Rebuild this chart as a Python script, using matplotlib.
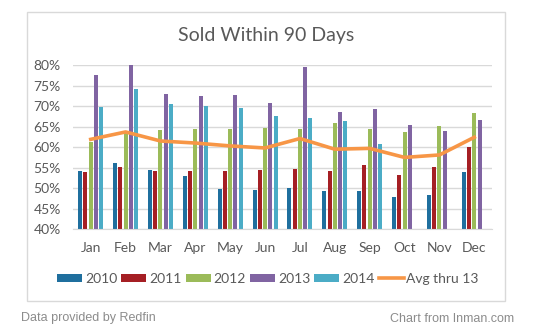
import matplotlib
matplotlib.use('Agg')
import matplotlib.pyplot as plt
import matplotlib.patches as mpatches
import numpy as np

months = ['Jan', 'Feb', 'Mar', 'Apr', 'May', 'Jun', 'Jul', 'Aug', 'Sep', 'Oct', 'Nov', 'Dec']
y2010 = [54.2, 56.1, 54.4, 53.0, 49.8, 49.6, 50.0, 49.3, 49.3, 47.9, 48.3, 54.0]
y2011 = [53.9, 55.1, 54.2, 54.2, 54.2, 54.5, 54.6, 54.2, 55.6, 53.2, 55.1, 60.0]
y2012 = [61.2, 63.9, 64.2, 64.4, 64.4, 64.6, 64.4, 65.8, 64.4, 63.7, 65.1, 68.3]
y2013 = [77.5, 80.0, 72.9, 72.4, 72.7, 70.7, 79.5, 68.5, 69.2, 65.4, 63.9, 66.6]
y2014 = [69.8, 74.1, 70.5, 70.0, 69.5, 67.6, 67.1, 66.3, 60.8, np.nan, np.nan, np.nan]
avg_thru_13 = [61.9, 63.7, 61.5, 61.0, 60.3, 59.8, 62.1, 59.5, 59.7, 57.5, 58.1, 62.4]

series = [('2010', y2010, '#1F6F9E'),
          ('2011', y2011, '#A51F24'),
          ('2012', y2012, '#9BBB59'),
          ('2013', y2013, '#8064A2'),
          ('2014', y2014, '#4BACC6')]

font = 'Lato'
grey = '#595959'

fig = plt.figure(figsize=(5.36, 3.30), dpi=100)
fig.patch.set_facecolor('white')

# chart border
fig.patches.append(mpatches.Rectangle((27 / 536, 1 - 301 / 330), 478 / 536, 289 / 330,
                                      transform=fig.transFigure, fill=False,
                                      edgecolor='#D9D9D9', linewidth=1.0))

ax = fig.add_axes([73.3 / 536, 1 - 229.3 / 330, 418.4 / 536, 164.3 / 330])
x = np.arange(len(months))
slot = 0.151
width = 0.115
handles = []
for i, (name, vals, color) in enumerate(series):
    b = ax.bar(x + (i - 2) * slot, np.array(vals) - 40, width, bottom=40, color=color,
               label=name, zorder=2)
    handles.append(b)
ln, = ax.plot(x, avg_thru_13, color='#F79646', linewidth=2.6, label='Avg thru 13',
              zorder=3, solid_joinstyle='round')
handles.append(ln)

ax.set_ylim(40, 80)
ax.set_xlim(-0.5, 11.5)
ax.set_yticks(np.arange(40, 81, 5))
ax.set_yticklabels(['%d%%' % v for v in np.arange(40, 81, 5)])
ax.set_xticks(x)
ax.set_xticklabels(months)
ax.grid(axis='y', color='#D9D9D9', linewidth=1.0, zorder=0)
ax.set_axisbelow(True)
for spine in ['left', 'right', 'top']:
    ax.spines[spine].set_visible(False)
ax.spines['bottom'].set_color('#D9D9D9')
ax.tick_params(axis='both', length=0, colors=grey, labelsize=10)
ax.tick_params(axis='y', pad=9)
ax.tick_params(axis='x', pad=9)
for label in ax.get_xticklabels() + ax.get_yticklabels():
    label.set_fontfamily(font)
    label.set_color(grey)

fig.text(266 / 536, 1 - 36 / 330, 'Sold Within 90 Days', ha='center', va='center',
         fontsize=14, color=grey, fontfamily=font)

leg = fig.legend(handles=handles, loc='center', bbox_to_anchor=(268 / 536, 1 - 279 / 330),
                 ncol=6, frameon=False, handlelength=1.8, handleheight=0.55,
                 handletextpad=0.2, columnspacing=0.3,
                 prop={'family': font, 'size': 10})
for t in leg.get_texts():
    t.set_color(grey)

fig.text(21 / 536, 1 - 318.5 / 330, 'Data provided by Redfin', ha='left', va='center',
         fontsize=9, color='#8C8C8C', fontfamily='Liberation Sans')
fig.text(514 / 536, 1 - 318.5 / 330, 'Chart from Inman.com', ha='right', va='center',
         fontsize=9, color='#8C8C8C', fontfamily='Liberation Sans')

plt.savefig('out.png', dpi=100)
